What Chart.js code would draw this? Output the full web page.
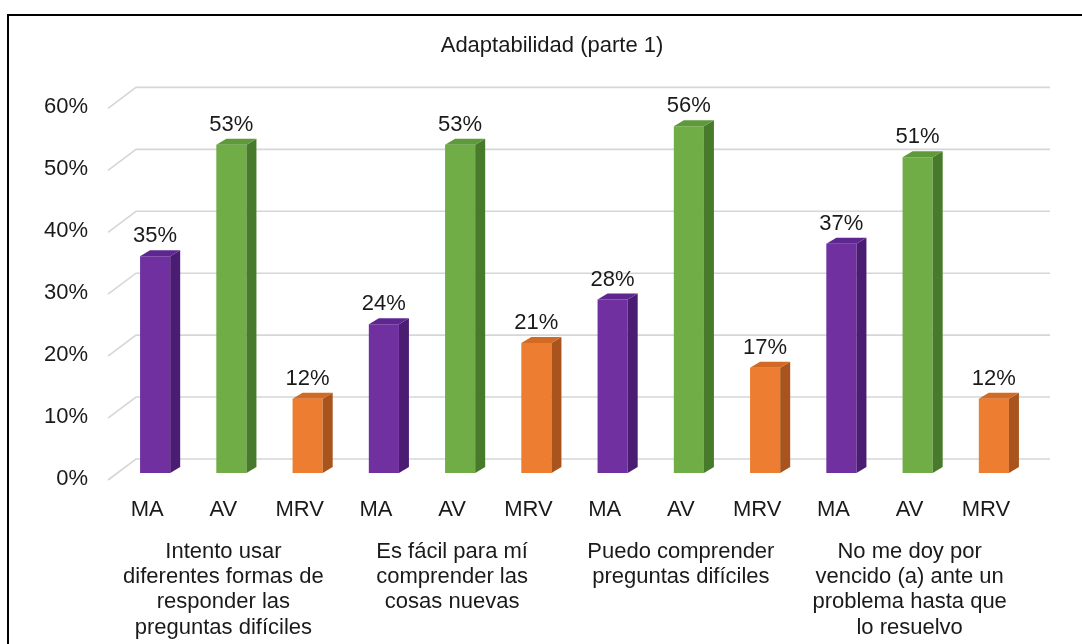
<!DOCTYPE html>
<html>
<head>
<meta charset="utf-8">
<script src="https://cdn.jsdelivr.net/npm/chart.js@4.4.1/dist/chart.umd.min.js"></script>
<style>
  html, body { margin: 0; padding: 0; overflow: hidden; background: #fff; width: 1082px; height: 644px; }
  #frame { position: absolute; left: 7px; top: 14px; width: 1086px; height: 640px; border: 2px solid #000; background: #fff; }
  #c { display: block; }
</style>
</head>
<body>
<div id="frame"><canvas id="c" width="1086" height="628"></canvas></div>
<script>
const chartTitle = 'Adaptabilidad (parte 1)';
const seriesNames = ['MA', 'AV', 'MRV'];
const questions = [
  ['Intento usar', 'diferentes formas de', 'responder las', 'preguntas difíciles'],
  ['Es fácil para mí', 'comprender las', 'cosas nuevas'],
  ['Puedo comprender', 'preguntas difíciles'],
  ['No me doy por', 'vencido (a) ante un', 'problema hasta que', 'lo resuelvo']
];
const MA  = [35, 24, 28, 37];
const AV  = [53, 53, 56, 51];
const MRV = [12, 21, 17, 12];
const yTicks = [0, 10, 20, 30, 40, 50, 60];

const frontColors = ['#7030A0', '#70AD47', '#ED7D31'];
const topColors   = ['#5E2790', '#5E9A3A', '#D26A24'];
const sideColors  = ['#4A1C72', '#477A2B', '#A9541C'];

const seriesValues = [MA, AV, MRV];
const labels = [], values = [], fills = [], tops = [], sides = [];
questions.forEach((q, qi) => {
  seriesNames.forEach((s, si) => {
    labels.push(s);
    values.push(seriesValues[si][qi]);
    fills.push(frontColors[si]);
    tops.push(topColors[si]);
    sides.push(sideColors[si]);
  });
});

const FONT = '"Liberation Sans", Arial, sans-serif';
const DX = 10, DY = 6;

const wallPlugin = {
  id: 'wall',
  beforeDatasetsDraw(chart) {
    const ctx = chart.ctx, y = chart.scales.y, a = chart.chartArea;
    ctx.save();
    ctx.strokeStyle = '#D6D6D6';
    ctx.lineWidth = 1.6;
    yTicks.forEach(v => {
      const py = y.getPixelForValue(v);
      ctx.beginPath();
      ctx.moveTo(a.left - 9, py + 7);
      ctx.lineTo(a.left + 19, py - 14);
      ctx.lineTo(a.right + 18, py - 14);
      ctx.stroke();
    });
    ctx.restore();
  }
};

const barsPlugin = {
  id: 'bars3d',
  afterDatasetsDraw(chart) {
    const ctx = chart.ctx;
    const meta = chart.getDatasetMeta(0);
    ctx.save();
    meta.data.forEach((bar, i) => {
      const p = bar.getProps(['x', 'y', 'base', 'width'], true);
      const l = p.x - p.width / 2, r = p.x + p.width / 2;
      ctx.fillStyle = sides[i];
      ctx.beginPath();
      ctx.moveTo(r, p.y);
      ctx.lineTo(r + DX, p.y - DY);
      ctx.lineTo(r + DX, p.base - DY);
      ctx.lineTo(r, p.base);
      ctx.closePath();
      ctx.fill();
      ctx.fillStyle = tops[i];
      ctx.beginPath();
      ctx.moveTo(l, p.y);
      ctx.lineTo(l + DX, p.y - DY);
      ctx.lineTo(r + DX, p.y - DY);
      ctx.lineTo(r, p.y);
      ctx.closePath();
      ctx.fill();
      ctx.fillStyle = '#1a1a1a';
      ctx.font = '22px ' + FONT;
      ctx.textAlign = 'center';
      ctx.textBaseline = 'middle';
      ctx.fillText(values[i] + '%', p.x, p.y - 20);
    });
    ctx.restore();
  }
};

new Chart(document.getElementById('c'), {
  type: 'bar',
  data: {
    labels: labels,
    datasets: [{
      data: values,
      backgroundColor: fills,
      borderWidth: 0,
      barPercentage: 0.395,
      categoryPercentage: 1
    }]
  },
  options: {
    responsive: false,
    animation: false,
    devicePixelRatio: 1,
    layout: { padding: { left: 0, right: 0, top: 0, bottom: 0 } },
    plugins: {
      legend: { display: false },
      tooltip: { enabled: false },
      title: {
        display: true,
        text: chartTitle,
        color: '#1a1a1a',
        font: { family: FONT, size: 22, weight: 'normal' },
        padding: { top: 17, bottom: 42 }
      }
    },
    scales: {
      y: {
        min: 0, max: 60,
        afterBuildTicks: s => { s.ticks = yTicks.map(v => ({ value: v })); },
        afterFit: s => { s.width = 108; },
        grid: { display: false, drawTicks: false },
        border: { display: false },
        ticks: {
          padding: 29,
          labelOffset: 6,
          color: '#1a1a1a',
          font: { family: FONT, size: 22 },
          callback: v => v + '%'
        }
      },
      yR: {
        position: 'right',
        display: true,
        afterFit: s => { s.width = 63; },
        grid: { display: false, drawTicks: false },
        border: { display: false },
        ticks: { display: false }
      },
      x: {
        weight: 0,
        afterFit: s => { s.height = 60; },
        grid: { display: false, drawTicks: false },
        border: { display: false },
        ticks: {
          padding: 24,
          labelOffset: -8,
          maxRotation: 0,
          autoSkip: false,
          color: '#1a1a1a',
          font: { family: FONT, size: 22, lineHeight: 1.2 }
        }
      },
      x2: {
        type: 'category',
        position: 'bottom',
        weight: 1,
        labels: questions,
        offset: true,
        afterFit: s => { s.height = 111; },
        grid: { display: false, drawTicks: false },
        border: { display: false },
        ticks: {
          padding: 6,
          labelOffset: -8,
          maxRotation: 0,
          autoSkip: false,
          color: '#1a1a1a',
          font: { family: FONT, size: 22, lineHeight: 1.15 }
        }
      }
    }
  },
  plugins: [wallPlugin, barsPlugin]
});
</script>
</body>
</html>
